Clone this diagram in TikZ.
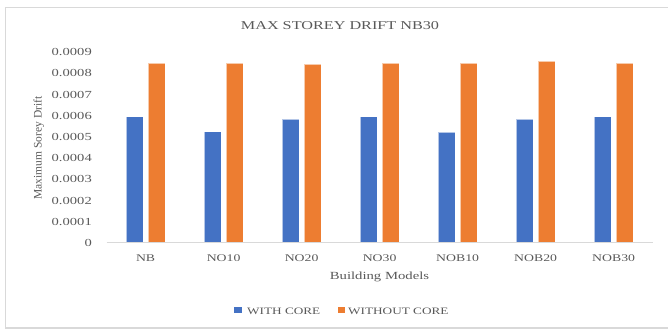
\documentclass[tikz,border=0pt]{standalone}
\usepackage{fontspec}
\setmainfont{Liberation Serif}[FakeStretch=1.35]
\newfontfamily\plainserif{Liberation Serif}
\definecolor{WithClr}{RGB}{68,114,196}
\definecolor{WithoutClr}{RGB}{237,125,49}
\definecolor{LabelClr}{RGB}{89,89,89}
\definecolor{LineClr}{RGB}{217,217,217}

\begin{document}
\begin{tikzpicture}[x=1pt,y=1pt,
  lbl/.style={text=LabelClr,inner sep=0pt},
  bar/.style={draw=white,draw opacity=0.6,line width=0.5pt},
  legkey/.style={inner sep=0pt,minimum width=7.5pt,minimum height=5.5pt}]
\useasboundingbox (0,0) rectangle (668,329);

\draw[LineClr,line width=1.2pt] (5.5,1) rectangle (675,321.5);

\node[lbl,font=\fontsize{12}{14}\selectfont,anchor=base] (title) at (340,299) {MAX STOREY DRIFT NB30};

\foreach \k/\t in {0/0,1/0.0001,2/0.0002,3/0.0003,4/0.0004,5/0.0005,6/0.0006,7/0.0007,8/0.0008,9/0.0009}
  \node[lbl,font=\fontsize{10.8}{12}\selectfont,anchor=east] (tick\k) at (92,86+21.2*\k) {\t};

\node[lbl,font=\plainserif\fontsize{11.5}{13}\selectfont,rotate=90,anchor=base] (ytitle) at (41.5,181) {Maximum Sorey Drift};

\foreach \v/\w [count=\i from 0] in {5.96/8.50,5.25/8.47,5.85/8.44,5.96/8.47,5.22/8.47,5.85/8.57,5.96/8.47}{
  \filldraw[bar,fill=WithClr] (145.6+78*\i-19.5,86) rectangle (145.6+78*\i-2.5,86+21.2*\v);
  \filldraw[bar,fill=WithoutClr] (145.6+78*\i+2.5,86) rectangle (145.6+78*\i+19.5,86+21.2*\w);
}

\coordinate (axisL) at (106.6,86);
\coordinate (axisR) at (653.3,86);
\draw[LineClr,line width=1pt] (axisL) -- (axisR);

\foreach \c [count=\i from 0] in {NB,NO10,NO20,NO30,NOB10,NOB20,NOB30}
  \node[lbl,font=\fontsize{10.2}{12}\selectfont] (cat\i) at (145.6+78*\i,70.7) {\c};

\node[lbl,font=\fontsize{10.9}{12}\selectfont,anchor=base] (xtitle) at (379.5,49) {Building Models};

\node[legkey,fill=WithClr] (keyWith) at (238,19) {};
\node[lbl,font=\fontsize{9.8}{12}\selectfont,anchor=base west] (txtWith) at (247,15) {WITH CORE};
\node[legkey,fill=WithoutClr] (keyWithout) at (341.5,19) {};
\node[lbl,font=\fontsize{9.8}{12}\selectfont,anchor=base west] (txtWithout) at (348,15) {WITHOUT CORE};

\end{tikzpicture}
\end{document}
